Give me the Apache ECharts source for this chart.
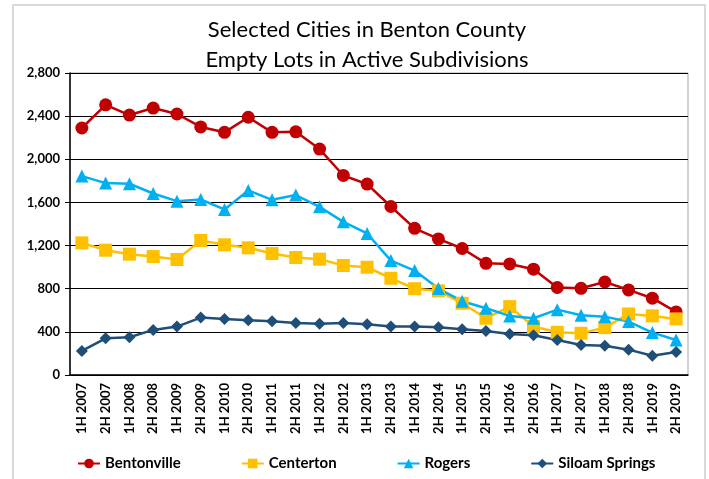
<!DOCTYPE html>
<html>
<head>
<meta charset="utf-8">
<script src="https://cdn.jsdelivr.net/npm/echarts@6/dist/echarts.min.js"></script>
<style>
  html, body { margin: 0; padding: 0; background: #fff; }
  #frame {
    position: absolute; left: 12px; top: 4px; width: 690px; height: 490px;
    border: 2px solid #d9d9d9;
  }
  #chart { position: absolute; left: 0; top: 0; width: 709px; height: 479px; }
</style>
</head>
<body>
<div id="frame"></div>
<div id="chart"></div>
<script>
// half-year periods
const periods = [
  "1H 2007", "2H 2007", "1H 2008", "2H 2008", "1H 2009", "2H 2009",
  "1H 2010", "2H 2010", "1H 2011", "2H 2011", "1H 2012", "2H 2012",
  "1H 2013", "2H 2013", "1H 2014", "2H 2014", "1H 2015", "2H 2015",
  "1H 2016", "2H 2016", "1H 2017", "2H 2017", "1H 2018", "2H 2018",
  "1H 2019", "2H 2019"
];

// empty lots per city
const bentonville = [2290, 2505, 2410, 2475, 2420, 2300, 2250, 2390, 2250, 2255, 2095, 1850,
  1770, 1562, 1360, 1262, 1173, 1035, 1030, 981, 811, 804, 862, 789, 712, 585];
const centerton = [1225, 1157, 1120, 1098, 1071, 1247, 1207, 1179, 1126, 1089, 1074, 1015,
  999, 897, 800, 780, 665, 526, 634, 449, 396, 387, 439, 566, 548, 520];
const rogers = [1844, 1779, 1773, 1683, 1612, 1627, 1535, 1711, 1624, 1668, 1559, 1420,
  1312, 1061, 968, 801, 684, 619, 548, 526, 606, 554, 541, 495, 393, 325];
const siloamSprings = [223, 340, 350, 418, 449, 532, 520, 507, 498, 483, 476, 483,
  470, 449, 449, 442, 424, 408, 381, 368, 325, 278, 272, 235, 179, 213];

const yTicks = { min: 0, max: 2800, step: 400 };

let chart = echarts.init(document.getElementById("chart"));

function lineSeries(name, data, color, symbol, size) {
  return {
    name: name,
    type: "line",
    data: data,
    symbol: symbol,
    symbolSize: size,
    showAllSymbol: true,
    lineStyle: { color: color, width: 2.5 },
    itemStyle: { color: color },
    emphasis: { disabled: true },
    animation: false
  };
}

chart.setOption({
  textStyle: { fontFamily: "Lato" },
  title: {
    text: "Selected Cities in Benton County\nEmpty Lots in Active Subdivisions",
    left: 362,
    textAlign: "center",
    top: 10,
    textStyle: {
      fontFamily: "Lato",
      fontSize: 22,
      fontWeight: "normal",
      color: "#000",
      lineHeight: 30
    }
  },
  legend: {
    left: 72,
    top: 451,
    itemGap: 60,
    itemWidth: 22,
    itemHeight: 12,
    textStyle: { fontFamily: "Lato", fontSize: 15, fontWeight: "bold", color: "#000" },
    data: ["Bentonville", "Centerton", "Rogers", "Siloam Springs"]
  },
  grid: { left: 70, right: 21, top: 73, bottom: 104, show: true, borderColor: "#a6a6a6", borderWidth: 1 },
  xAxis: {
    type: "category",
    data: periods,
    boundaryGap: true,
    axisLine: { lineStyle: { color: "#000", width: 1.5 } },
    axisTick: { show: false },
    axisLabel: {
      rotate: 90,
      interval: 0,
      fontFamily: "Lato",
      fontSize: 13,
      fontWeight: "bold",
      color: "#000",
      margin: 8
    }
  },
  yAxis: {
    type: "value",
    min: yTicks.min,
    max: yTicks.max,
    interval: yTicks.step,
    axisLine: { show: true, lineStyle: { color: "#000", width: 1.5 } },
    axisTick: { show: true, length: 5, lineStyle: { color: "#000" } },
    splitLine: { lineStyle: { color: "#000", width: 1 } },
    axisLabel: {
      fontFamily: "Lato",
      fontSize: 13,
      fontWeight: "bold",
      color: "#000",
      margin: 10,
      formatter: v => v.toLocaleString("en-US")
    }
  },
  series: [
    lineSeries("Bentonville", bentonville, "#c00000", "circle", 13),
    lineSeries("Centerton", centerton, "#ffc000", "rect", 13),
    lineSeries("Rogers", rogers, "#00b0f0", "triangle", 13),
    lineSeries("Siloam Springs", siloamSprings, "#1f4e79", "diamond", 12)
  ]
});
</script>
</body>
</html>
